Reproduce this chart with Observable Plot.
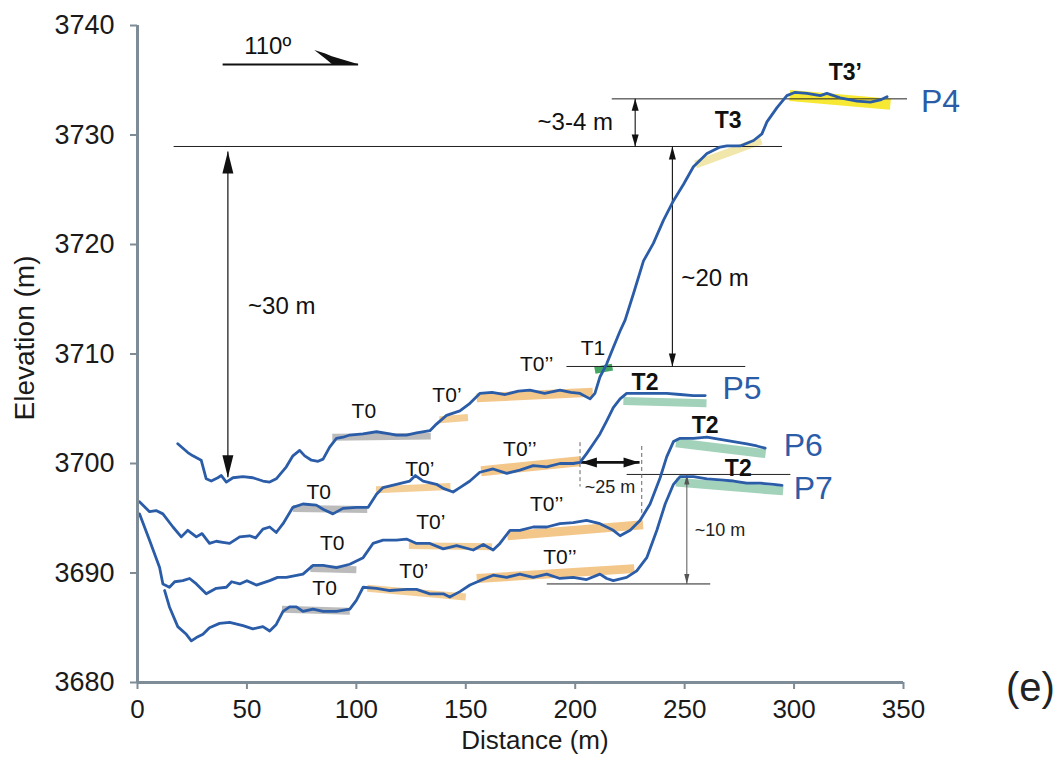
<!DOCTYPE html>
<html><head><meta charset="utf-8">
<script src="https://cdn.jsdelivr.net/npm/d3@7"></script>
<script src="https://cdn.jsdelivr.net/npm/@observablehq/plot@0.6"></script>
<style>body{margin:0;background:#fff}#chart svg{display:block}</style>
</head><body><div id="chart"></div>
<script>
// ---------- Axis ticks ----------
const xTicks = [0, 50, 100, 150, 200, 250, 300, 350];
const yTicks = [3680, 3690, 3700, 3710, 3720, 3730, 3740];

// ---------- Profiles (distance m, elevation m) ----------
const p4Dist = [18.4,23,25.3,29.1,31.4,33.7,36.7,38.3,40.6,43.6,48.2,52.7,57.3,60.4,63.4,68,71,74.1,76.4,79.5,82.5,84.8,87.8,90.9,93.9,97,103,109.2,115.3,118.3,122.9,127.5,133.6,136.6,141.2,147.3,151.9,156.4,162,168,174,179.3,186,193,198,202.2,206.8,209,211.3,214.4,217.4,220.5,222.8,226.6,231.2,235.7,240.3,244.9,249.5,254,260.2,266.2,269.3,275.4,281.5,285.3,287.6,292.2,296.7,300.5,305.9,312,315,321,328.8,334.9,339.4,342.5];
const p4Elev = [3701.8,3701.0,3700.7,3700.3,3698.6,3698.4,3698.7,3698.9,3698.3,3698.7,3698.8,3698.7,3698.4,3698.3,3698.6,3699.7,3700.7,3701.2,3700.7,3700.3,3700.2,3700.4,3701.5,3702.3,3702.4,3702.6,3702.7,3702.9,3702.7,3702.6,3702.6,3702.8,3703.0,3703.6,3704.4,3704.8,3705.5,3706.4,3706.5,3706.3,3706.6,3706.7,3706.4,3706.7,3706.5,3706.4,3705.9,3706.4,3707.9,3709.1,3710.6,3712.1,3713.1,3715.5,3718.5,3720.1,3722.2,3724.0,3725.5,3727.1,3728.3,3728.9,3729.0,3729.0,3729.5,3730.1,3731.2,3732.5,3733.6,3733.9,3733.8,3733.6,3733.8,3733.4,3733.1,3733.0,3733.2,3733.5];

const p5Dist = [0.9,5.5,8.5,11.6,16.2,20,23,26.9,29.5,32.9,36,39,42.1,46.7,51.2,54,57.3,60.4,63.4,66.5,71,75.6,81.7,85,89.3,93.9,100,105.4,109.2,112.2,118.3,124.4,127,130.5,136.6,140,144.2,147.3,151.9,156.4,162.5,168.7,174.7,180.8,187,193,199.1,202.2,205.2,208.3,211.3,214.4,217.4,220.5,223.5,229.6,235.7,241.8,247.9,254,259.4];
const p5Elev = [3696.5,3695.6,3695.7,3695.4,3694.2,3693.3,3693.9,3693.3,3693.6,3692.7,3692.9,3692.8,3692.7,3693.3,3693.4,3693.2,3694.0,3694.2,3693.7,3694.5,3696.0,3696.3,3696.2,3695.8,3695.4,3695.9,3696.0,3696.0,3697.2,3697.8,3698.1,3698.4,3698.9,3698.4,3698.1,3697.7,3697.4,3697.8,3698.4,3699.2,3699.5,3699.1,3699.4,3699.8,3699.7,3700.0,3700.0,3700.1,3700.9,3701.8,3702.7,3703.9,3705.1,3705.9,3706.4,3706.4,3706.4,3706.4,3706.3,3706.2,3706.2];

const p6Dist = [0.9,5.5,10.1,11.6,14.6,17,20.7,23.8,26.9,31.4,36,40.6,43,46.7,50,54.3,60.4,64,68,75.6,80.2,84.8,90.9,97,103.1,107.6,112.2,118.3,122.9,127.5,133.6,139.7,145.8,153.4,158,162.5,165.6,170.2,174.7,180.8,187,193,199.1,205.2,211.3,217.4,220.5,225.1,229.6,234.2,238.8,241.8,244.9,247.9,254,260.2,266.2,272.3,278.4,283,286.8];
const p6Elev = [3695.4,3693.0,3690.5,3689.0,3688.7,3689.2,3689.3,3689.5,3689.0,3688.1,3688.6,3688.7,3689.2,3689.0,3689.3,3688.9,3689.3,3689.6,3689.6,3689.9,3690.7,3690.7,3690.5,3690.8,3691.4,3692.7,3693.0,3693.0,3693.1,3692.7,3692.7,3692.2,3692.5,3692.1,3692.6,3692.1,3692.7,3693.9,3693.9,3694.2,3694.2,3694.5,3694.6,3694.8,3694.5,3693.9,3693.4,3693.9,3694.8,3696.3,3698.7,3700.6,3702.0,3702.3,3702.3,3702.4,3702.2,3702.0,3701.8,3701.6,3701.4];

const p7Dist = [12.4,14.6,18.4,22.3,24.6,26.9,29.9,32.9,37.5,42.1,48.2,52.7,57.3,60.4,63.4,66.5,69.5,72.6,75.6,80.2,84.8,90.9,97,100,103.1,109.2,115.3,122.9,127.5,133.6,139.7,142.7,147.3,151.9,156.4,162.5,168.7,174.7,180.8,187,193,199.1,205.2,211.3,214.4,217.4,223.5,228.1,232.7,237.3,241.1,244.9,247.9,254,260.2,266.2,272.3,278.4,284.5,290.6,294.5];
const p7Elev = [3688.4,3686.9,3685.1,3684.4,3683.8,3684.1,3684.4,3685.0,3685.4,3685.5,3685.2,3684.9,3685.1,3684.7,3685.3,3686.5,3686.9,3686.9,3686.5,3686.7,3686.5,3686.5,3686.7,3687.5,3688.7,3688.6,3688.4,3688.5,3688.5,3688.1,3688.1,3687.8,3688.3,3688.9,3689.3,3689.8,3689.6,3689.9,3689.6,3689.9,3689.5,3689.6,3689.4,3689.9,3689.5,3689.3,3689.6,3690.2,3691.4,3693.9,3696.3,3698.1,3698.8,3698.8,3698.6,3698.5,3698.4,3698.2,3698.2,3698.1,3698.0];

const profileNames = ["P4", "P5", "P6", "P7"];
const profileDist = [p4Dist, p5Dist, p6Dist, p7Dist];
const profileElev = [p4Elev, p5Elev, p6Elev, p7Elev];

// ---------- Terrace highlight bands ----------
const bandColors = {T0: "#b4b4b4", "T0'": "#f3c98c", "T0''": "#f2c07c", T1: "#2f9c50", T2: "#98cdb2", T3: "#efe4a2", "T3'": "#f6e61e"};
const bandTerrace = ["T0","T0'","T0''","T1","T3","T3'", "T0","T0'","T0''","T2", "T0","T0'","T0''","T2", "T0","T0'","T0''","T2"];
const bandWidth   = [7,7,9,7,8,11, 7,7,10,8, 7,7,9,9, 7,7,9,9];
const bandStartD  = [89,138,155,209,255,298, 71,109,157,222, 79,124,169,246, 66,105,155,246];
const bandStartE  = [3702.4,3704.0,3706.0,3708.5,3727.3,3733.6, 3695.9,3697.6,3699.3,3705.7, 3690.4,3692.5,3693.4,3701.9, 3686.7,3688.6,3689.5,3698.3];
const bandEndD    = [134,151,208,217,285,344, 105,143,202,260, 100,162,231,287, 97,150,227,295];
const bandEndE    = [3702.5,3704.2,3706.5,3708.8,3729.5,3732.8, 3695.8,3697.9,3700.2,3705.5, 3690.3,3692.4,3694.4,3700.9, 3686.5,3687.8,3690.4,3697.5];

// ---------- Reference lines ----------
const hLineE  = [3728.95, 3733.3, 3708.86, 3699.0, 3689.0];
const hLineD1 = [16.5, 216.7, 196, 223.5, 187];
const hLineD2 = [294.5, 351.6, 277.7, 298.3, 261.7];
const dashD  = [202.2, 230.4];
const dashE1 = [3701.95, 3701.6];
const dashE2 = [3697.9, 3695.5];

// ---------- Double arrows: [x1, y1, x2, y2] ----------
const arrowName = ["~30 m", "~3-4 m", "~20 m", "~25 m", "~10 m"];
const arrowX1 = [41.3, 227.4, 244.4, 202.6, 251];
const arrowY1 = [3728.5, 3733.3, 3728.95, 3700.1, 3699.0];
const arrowX2 = [41.3, 227.4, 244.4, 229.4, 251];
const arrowY2 = [3698.75, 3728.95, 3708.86, 3700.1, 3689.0];
const arrowStroke = ["#111", "#111", "#111", "#111", "#555"];
const arrowShaft = [1.2, 1.1, 1.1, 2.6, 1];
const arrowHeadLen = [22, 12, 13, 16, 10];
const arrowHeadR = [5.5, 3.5, 3.5, 5, 2.6];

// ---------- Direction arrow (110º) ----------
const dirD = [38.9, 100.8];
const dirE = 3736.44;
const dirHeadD = [81, 86, 89, 100.8];
const dirHeadTop = [3737.72, 3737.4, 3737.15, 3736.44];
const dirHeadBot = [3737.72, 3736.95, 3736.44, 3736.44];

// ---------- Labels ----------
const terraceText = ["T0","T0’","T0’’","T1","T0","T0’","T0’’","T0","T0’","T0’’","T0","T0’","T0’’"];
const terraceD = [103.4,141.4,182.4,208.1,82.8,129,174.7,89,134,187,85.5,126.3,193];
const terraceE = [3704.8,3706.2,3709.1,3710.5,3697.4,3699.5,3701.3,3692.7,3694.6,3696.3,3688.6,3690.2,3691.4];
const boldText = ["T3’","T3","T2","T2","T2"];
const boldD = [323.4,269.9,231.9,259.4,274.5];
const boldE = [3735.7,3731.3,3707.4,3703.5,3699.5];
const profileLabelD = [366.9, 276.2, 304.2, 308.8];
const profileLabelE = [3733.0, 3706.8, 3701.6, 3697.7];
const bigNote = ["~30 m", "~3-4 m"];
const bigNoteD = [65.9, 200];
const bigNoteE = [3714.4, 3731.2];
const bigNote2 = ["~20 m"];
const bigNote2D = [248.5];
const bigNote2E = [3716.9];
const smallNote = ["~25 m", "~10 m"];
const smallNoteD = [215.9, 266.2];
const smallNoteE = [3697.8, 3693.9];

// ---------- Build tables ----------
const profileRows = profileNames.flatMap((p, i) => profileDist[i].map((d, j) => ({p, d, e: profileElev[i][j]})));
const bandRows = bandTerrace.flatMap((t, i) => [
  {id: i, d: bandStartD[i], e: bandStartE[i], c: bandColors[t], w: bandWidth[i]},
  {id: i, d: bandEndD[i], e: bandEndE[i], c: bandColors[t], w: bandWidth[i]}
]);
const hLines = hLineE.map((e, i) => ({e, d1: hLineD1[i], d2: hLineD2[i]}));
const dashes = dashD.map((d, i) => ({d, e1: dashE1[i], e2: dashE2[i]}));
const arrows = arrowName.map((n, i) => ({x1: arrowX1[i], y1: arrowY1[i], x2: arrowX2[i], y2: arrowY2[i], s: arrowStroke[i], w: arrowShaft[i], l: arrowHeadLen[i], r: arrowHeadR[i]}));
function dirAngle(dx, dy) { // screen rotation: 0 = up, 90 = right
  if (dx === 0) return dy > 0 ? 0 : 180;
  return dx > 0 ? 90 : 270;
}
const heads = arrows.flatMap(a => [
  {x: a.x2, y: a.y2, rot: dirAngle(a.x2 - a.x1, a.y2 - a.y1), s: a.s, l: a.l, r: a.r},
  {x: a.x1, y: a.y1, rot: dirAngle(a.x1 - a.x2, a.y1 - a.y2), s: a.s, l: a.l, r: a.r}
]);
const headGroups = d3.groups(heads, h => `${h.l}|${h.r}|${h.s}`);
const dirHeadRows = dirHeadD.map((d, i) => ({d, top: dirHeadTop[i], bot: dirHeadBot[i]}));

const FONT = "'Liberation Sans', Arial, sans-serif";
const blue = "#2a5ca8";

const chart = Plot.plot({
  width: 1059, height: 765,
  marginLeft: 137, marginRight: 156, marginTop: 25, marginBottom: 83,
  x: {domain: [0, 350]},
  y: {domain: [3680, 3740]},
  style: {fontFamily: FONT, background: "#fff", color: "#1a1a1a", overflow: "visible"},
  marks: [
    // highlight bands
    Plot.line(bandRows, {x: "d", y: "e", z: "id", stroke: "c", strokeWidth: "w", strokeOpacity: 0.9, strokeLinecap: "butt"}),
    // horizontal reference lines
    Plot.link(hLines, {x1: "d1", x2: "d2", y1: "e", y2: "e", stroke: "#222", strokeWidth: 1}),
    Plot.link(dashes, {x1: "d", x2: "d", y1: "e1", y2: "e2", stroke: "#666", strokeWidth: 1, strokeDasharray: "4,3"}),
    // arrows
    Plot.link(arrows, {x1: "x1", y1: "y1", x2: "x2", y2: "y2", stroke: "s", strokeWidth: "w"}),
    ...headGroups.map(([, g]) => Plot.vector(g, {x: "x", y: "y", rotate: "rot", length: g[0].l, r: g[0].r, shape: "spike", anchor: "end", fill: g[0].s, stroke: "none"})),
    // direction arrow
    Plot.link([0], {x1: dirD[0], x2: dirD[1], y1: dirE, y2: dirE, stroke: "#111", strokeWidth: 2.2}),
    Plot.areaY(dirHeadRows, {x: "d", y1: "bot", y2: "top", fill: "#111"}),
    Plot.text(["110º"], {x: 59.5, y: 3738.1, fontSize: 24, fill: "#111"}),
    // profiles
    Plot.line(profileRows, {x: "d", y: "e", z: "p", stroke: blue, strokeWidth: 2.8, strokeLinejoin: "round"}),
    // labels
    Plot.text(terraceText, {x: (d, i) => terraceD[i], y: (d, i) => terraceE[i], text: d => d, fontSize: 21, fill: "#111"}),
    Plot.text(boldText, {x: (d, i) => boldD[i], y: (d, i) => boldE[i], text: d => d, fontSize: 23, fontWeight: "bold", fill: "#111"}),
    Plot.text(profileNames, {x: (d, i) => profileLabelD[i], y: (d, i) => profileLabelE[i], text: d => d, fontSize: 32, fill: blue}),
    Plot.text(bigNote, {x: (d, i) => bigNoteD[i], y: (d, i) => bigNoteE[i], text: d => d, fontSize: 24, fill: "#111"}),
    Plot.text(bigNote2, {x: (d, i) => bigNote2D[i], y: (d, i) => bigNote2E[i], text: d => d, fontSize: 24, textAnchor: "start", fill: "#111"}),
    Plot.text(smallNote, {x: (d, i) => smallNoteD[i], y: (d, i) => smallNoteE[i], text: d => d, fontSize: 18, fill: "#222"}),
    Plot.text(["(e)"], {x: 408, y: 3679.5, fontSize: 40, fill: "#222"}),
    // axes
    Plot.ruleX([0], {stroke: "#7d8c96", strokeWidth: 3}),
    Plot.ruleY([3680], {stroke: "#7d8c96", strokeWidth: 3}),
    Plot.axisY({ticks: yTicks, tickFormat: d => String(d), tickSize: 7, tickPadding: 16, fontSize: 27, stroke: "#7d8c96", strokeWidth: 2, fill: "#1a1a1a", label: null}),
    Plot.axisX({ticks: xTicks, tickFormat: d => String(d), tickSize: 7, tickPadding: 10, fontSize: 26, stroke: "#7d8c96", strokeWidth: 2, fill: "#1a1a1a", label: null}),
    Plot.text(["Elevation (m)"], {frameAnchor: "left", textAnchor: "middle", dx: -112, dy: -16, rotate: -90, fontSize: 28, fill: "#1a1a1a"}),
    Plot.text(["Distance (m)"], {x: 181.6, frameAnchor: "bottom", textAnchor: "middle", dy: 66, fontSize: 26, fill: "#1a1a1a"})
  ]
});
document.getElementById("chart").appendChild(chart);
</script></body></html>
